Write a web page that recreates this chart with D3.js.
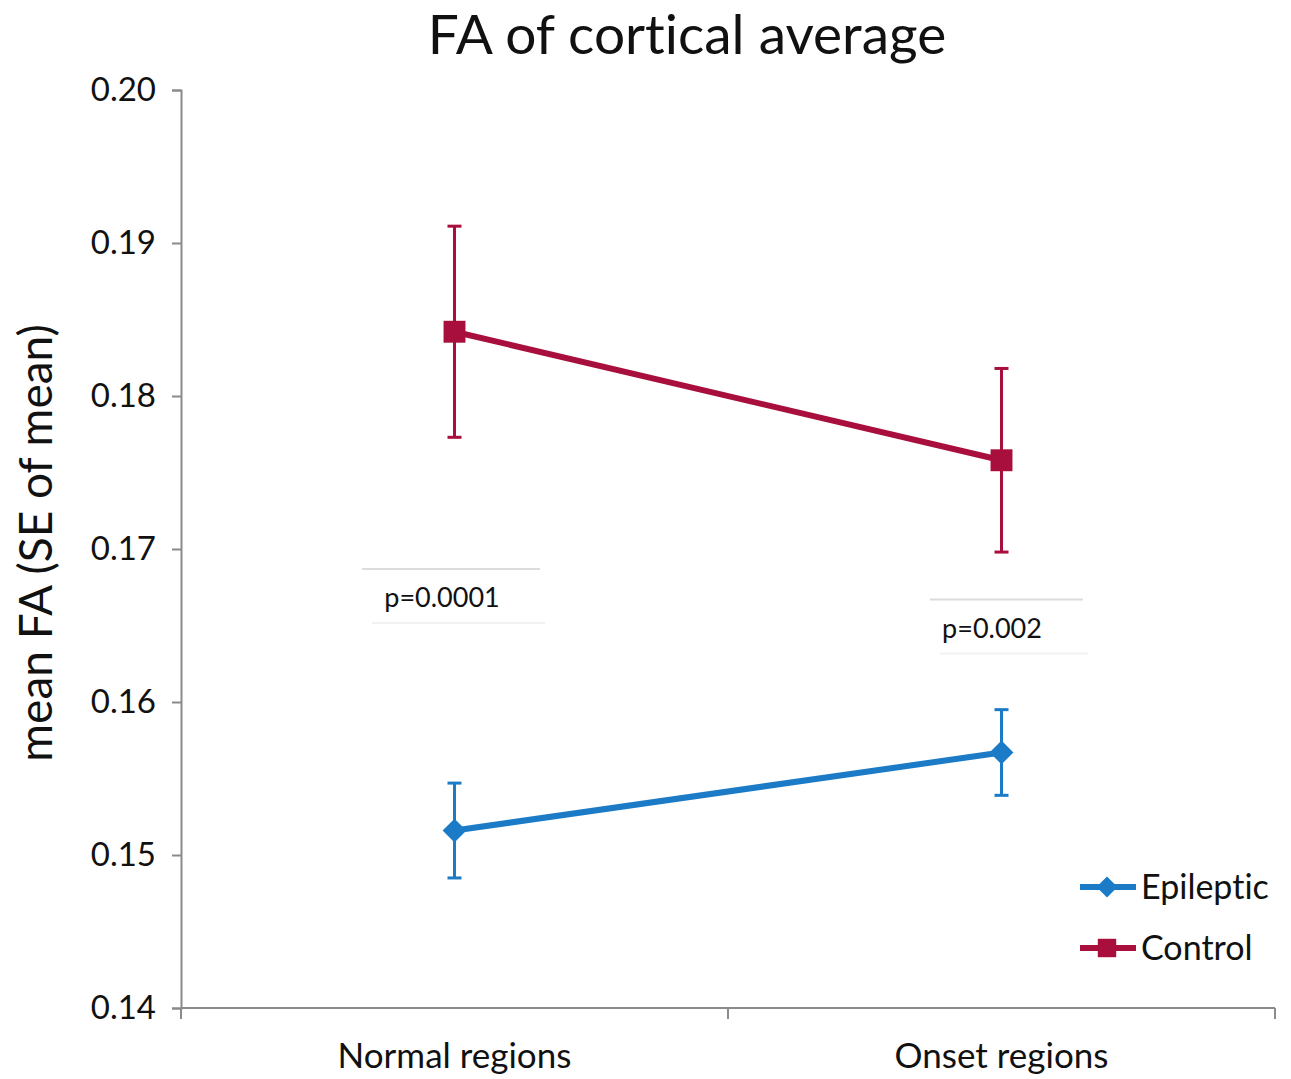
<!DOCTYPE html>
<html>
<head>
<meta charset="utf-8">
<script src="https://cdn.jsdelivr.net/npm/d3@7"></script>
<style>
  body { margin: 0; background: #fff; }
  text { font-family: Lato, "Open Sans", sans-serif; fill: #111; font-variant-ligatures: none; }
</style>
</head>
<body>
<div id="chart"></div>
<script>
// data
var categories = ["Normal regions", "Onset regions"];
var epileptic = [0.1516, 0.1567];
var epilepticErr = [0.0031, 0.0028];
var control = [0.1842, 0.1758];
var controlErr = [0.0069, 0.0060];
var yTicks = [0.14, 0.15, 0.16, 0.17, 0.18, 0.19, 0.20];
var pLabels = ["p=0.0001", "p=0.002"];
var pLevels = [0.1668, 0.1648];

var svgWidth = 1291;
var svgHeight = 1079;
var margin = { top: 90, right: 16, bottom: 71, left: 181 };
var width = svgWidth - margin.left - margin.right;
var height = svgHeight - margin.top - margin.bottom;

var blue = "#1b7bc7";
var red = "#a80f3c";

var svg = d3.select("#chart")
  .append("svg")
  .attr("width", svgWidth)
  .attr("height", svgHeight);

var chartGroup = svg.append("g")
  .attr("transform", `translate(${margin.left}, ${margin.top})`);

var xScale = d3.scaleBand()
  .domain(categories)
  .range([0, width]);

var yScale = d3.scaleLinear()
  .domain([0.14, 0.20])
  .range([height, 0]);

var xCenter = d => xScale(d) + xScale.bandwidth() / 2;

// axes
var yAxis = d3.axisLeft(yScale)
  .tickValues(yTicks)
  .tickFormat(d3.format(".2f"))
  .tickSize(9)
  .tickPadding(16);

var yG = chartGroup.append("g").call(yAxis);
yG.select(".domain").attr("stroke", "#8a8a8a").attr("stroke-width", 2);
yG.selectAll(".tick line").attr("stroke", "#8a8a8a").attr("stroke-width", 2);
yG.selectAll(".tick text")
  .attr("font-size", "33px")
  .attr("fill", "#111")
  .style("font-family", "Lato, sans-serif");

// x axis: ticks at band edges, labels at band centers
var xEdges = [0, xScale.bandwidth(), width];
var xG = chartGroup.append("g")
  .attr("transform", `translate(0, ${height})`);
xG.append("line")
  .attr("x1", 0).attr("x2", width)
  .attr("stroke", "#8a8a8a").attr("stroke-width", 2);
xG.selectAll(".edge")
  .data(xEdges)
  .enter()
  .append("line")
  .attr("x1", d => d).attr("x2", d => d)
  .attr("y1", 0).attr("y2", 11)
  .attr("stroke", "#8a8a8a").attr("stroke-width", 2);
xG.selectAll(".xlabel")
  .data(categories)
  .enter()
  .append("text")
  .attr("x", d => xCenter(d))
  .attr("y", 60)
  .attr("text-anchor", "middle")
  .attr("font-size", "35px")
  .text(d => d);

// title and axis label
svg.append("text")
  .attr("x", 687)
  .attr("y", 54)
  .attr("text-anchor", "middle")
  .attr("font-size", "55px")
  .text("FA of cortical average");

svg.append("text")
  .attr("transform", "rotate(-90)")
  .attr("x", -543)
  .attr("y", 52)
  .attr("text-anchor", "middle")
  .attr("font-size", "46px")
  .text("mean FA (SE of mean)");

// p-value annotations with faint rules
var pRules = [[362, 540, 545], [930, 1083, 1088]];
var pText = [442, 992];
categories.forEach(function(c, i) {
  var cy = yScale(pLevels[i]);
  var x0 = pRules[i][0] - margin.left;
  var x1 = pRules[i][1] - margin.left;
  chartGroup.append("line")
    .attr("x1", x0).attr("x2", x1)
    .attr("y1", cy - 29).attr("y2", cy - 29)
    .attr("stroke", "#dcdcdc").attr("stroke-width", 2);
  chartGroup.append("line")
    .attr("x1", x0 + 10).attr("x2", x1 + 5)
    .attr("y1", cy + 25).attr("y2", cy + 25)
    .attr("stroke", "#f2f2f2").attr("stroke-width", 2);
  chartGroup.append("text")
    .attr("x", pText[i] - margin.left)
    .attr("y", cy + 9)
    .attr("text-anchor", "middle")
    .attr("font-size", "27px")
    .text(pLabels[i]);
});

// series
var series = [
  { name: "Epileptic", values: epileptic, err: epilepticErr, color: blue, shape: d3.symbolDiamond2, size: 360 },
  { name: "Control", values: control, err: controlErr, color: red, shape: d3.symbolSquare, size: 480 }
];

var line = d3.line()
  .x((d, i) => xCenter(categories[i]))
  .y(d => yScale(d));

series.forEach(function(s) {
  var g = chartGroup.append("g");
  var pts = categories.map((c, i) => ({ c: c, v: s.values[i], e: s.err[i] }));

  // error bars
  g.selectAll(".err")
    .data(pts)
    .enter()
    .append("line")
    .attr("x1", d => xCenter(d.c)).attr("x2", d => xCenter(d.c))
    .attr("y1", d => yScale(d.v + d.e)).attr("y2", d => yScale(d.v - d.e))
    .attr("stroke", s.color).attr("stroke-width", 3);
  ["top", "bottom"].forEach(function(side) {
    g.selectAll(".cap-" + side)
      .data(pts)
      .enter()
      .append("line")
      .attr("x1", d => xCenter(d.c) - 7).attr("x2", d => xCenter(d.c) + 7)
      .attr("y1", d => yScale(side === "top" ? d.v + d.e : d.v - d.e))
      .attr("y2", d => yScale(side === "top" ? d.v + d.e : d.v - d.e))
      .attr("stroke", s.color).attr("stroke-width", 3);
  });

  g.append("path")
    .datum(s.values)
    .attr("d", line)
    .attr("fill", "none")
    .attr("stroke", s.color)
    .attr("stroke-width", 6);

  g.selectAll(".marker")
    .data(pts)
    .enter()
    .append("path")
    .attr("transform", d => `translate(${xCenter(d.c)}, ${yScale(d.v)})`)
    .attr("d", d3.symbol().type(s.shape).size(s.size))
    .attr("fill", s.color);
});

// legend
var legend = svg.append("g");
series.forEach(function(s, i) {
  var ly = 887 + i * 61;
  legend.append("line")
    .attr("x1", 1080).attr("x2", 1136)
    .attr("y1", ly).attr("y2", ly)
    .attr("stroke", s.color).attr("stroke-width", 6);
  legend.append("path")
    .attr("transform", `translate(1107, ${ly})`)
    .attr("d", d3.symbol().type(s.shape).size(s.name === "Control" ? 340 : 280))
    .attr("fill", s.color);
  legend.append("text")
    .attr("x", 1141)
    .attr("y", ly + 12)
    .attr("font-size", "34px")
    .text(s.name);
});
</script>
</body>
</html>
